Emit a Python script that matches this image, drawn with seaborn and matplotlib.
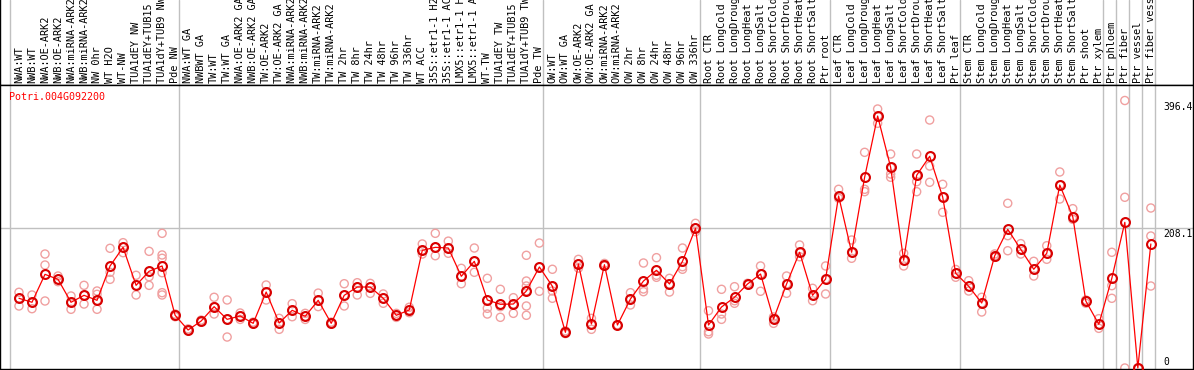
import numpy as np
import pandas as pd
import matplotlib
matplotlib.use("Agg")
import matplotlib.pyplot as plt
import seaborn as sns

# --------------------------------------------------
# data
# --------------------------------------------------
gene = "Potri.004G092200"

labels = [
    # NW
    "NWA:WT", "NWB:WT", "NWA:OE-ARK2", "NWB:OE-ARK2", "NWA:miRNA-ARK2", "NWB:miRNA-ARK2",
    "NW 0hr", "WT H2O", "WT-NW", "TUA1dEY NW", "TUA1dEY+TUB15 NW", "TUA1dY+TUB9 NW", "Pde NW",
    # TW
    "NWA:WT GA", "NWBWT GA", "TW:WT", "TW:WT GA", "NWA:OE-ARK2 GA", "NWB:OE-ARK2 GA",
    "TW:OE-ARK2", "TW:OE-ARK2 GA", "NWA:miRNA-ARK2 GA", "NWB:miRNA-ARK2 GA", "TW:miRNA-ARK2",
    "TW:miRNA-ARK2 GA", "TW 2hr", "TW 8hr", "TW 24hr", "TW 48hr", "TW 96hr", "TW 336hr", "WT ACC",
    "35S::etr1-1 H2O", "35S::etr1-1 ACC", "LMX5::etr1-1 H2O", "LMX5::etr1-1 ACC", "WT-TW",
    "TUA1dEY TW", "TUA1dEY+TUB15 TW", "TUA1dY+TUB9 TW", "Pde TW",
    # OW
    "OW:WT", "OW:WT GA", "OW:OE-ARK2", "OW:OE-ARK2 GA", "OW:miRNA-ARK2", "OW:miRNA-ARK2 GA",
    "OW 2hr", "OW 8hr", "OW 24hr", "OW 48hr", "OW 96hr", "OW 336hr",
    # root
    "Root CTR", "Root LongCold", "Root LongDrought", "Root LongHeat", "Root LongSalt",
    "Root ShortCold", "Root ShortDrought", "Root ShortHeat", "Root ShortSalt", "Ptr root",
    # leaf
    "Leaf CTR", "Leaf LongCold", "Leaf LongDrought", "Leaf LongHeat", "Leaf LongSalt",
    "Leaf ShortCold", "Leaf ShortDrought", "Leaf ShortHeat", "Leaf ShortSalt", "Ptr leaf",
    # stem
    "Stem CTR", "Stem LongCold", "Stem LongDrought", "Stem LongHeat", "Stem LongSalt",
    "Stem ShortCold", "Stem ShortDrought", "Stem ShortHeat", "Stem ShortSalt", "Ptr shoot", "Ptr xylem",
    # single-sample groups
    "Ptr phloem", "Ptr fiber", "Ptr vessel", "Ptr fiber vessel",
]
group_sizes = [13, 28, 12, 10, 10, 11, 1, 1, 1, 1]

means = [
    103.3, 97.4, 138.8, 131.4, 97.4, 107.7, 100.3, 151.2, 178.8, 122.5, 143.3, 151.2, 78.1,
    56.3, 69.6, 90.9, 72.1, 77.1, 66.2, 112.6, 66.7, 85.5, 76.6, 100.3, 66.2, 107.7, 120.0,
    120.0, 103.3, 78.1, 86.0, 174.4, 178.8, 177.8, 135.9, 158.1, 100.8, 94.4, 94.8, 114.1, 149.7,
    121.1, 52.9, 154.1, 65.2, 153.1, 63.7, 102.3, 128.9, 144.8, 124.5, 158.1, 207.0,
    63.7, 90.4, 104.8, 124.5, 139.3, 72.6, 124.5, 171.5, 107.7, 131.9,
    254.9, 171.5, 282.6, 373.4, 297.4, 159.6, 285.6, 313.7, 253.4, 140.3,
    121.1, 96.3, 166.4, 205.5, 175.9, 146.3, 170.0, 271.2, 224.2, 99.3, 64.8,
    132.9, 215.9, 0.0, 183.8,
]

replicates = [
    [112.2, 103.3, 91.9], [108.2, 97.4, 87.9], [168.9, 152.6, 99.3], [136.3, 131.4, 127.9],
    [106.7, 97.4, 87.0], [122.5, 107.7, 94.8], [114.1, 109.2, 100.3, 87.0], [177.4, 141.8, 131.4],
    [185.7, 178.8, 170.9], [137.4, 122.5, 108.2], [172.9, 135.3, 122.5],
    [199.6, 167.5, 162.6, 141.2, 111.6, 108.2], [80.0, 78.0, 76.0],
    [58.0, 55.0, 56.0], [71.0, 69.6, 68.0], [104.8, 90.9, 80.0], [100.8, 72.1, 45.9],
    [81.5, 77.0, 72.0], [68.0, 66.0, 65.0], [123.0, 112.6, 100.8], [73.6, 66.7, 57.3],
    [95.3, 85.5, 76.0], [81.0, 76.6, 72.0], [111.0, 100.3, 91.0], [68.0, 66.0, 65.0],
    [124.9, 107.7, 91.9], [126.4, 120.0, 108.2], [125.4, 120.0, 110.6], [109.7, 103.3, 95.9],
    [81.0, 78.0, 75.0], [90.0, 86.0, 82.0], [183.8, 174.4, 168.9], [199.6, 178.8, 166.4],
    [188.0, 177.8, 170.0], [147.7, 135.9, 124.9], [177.8, 158.1, 141.8],
    [132.9, 100.8, 88.5, 80.0], [116.6, 90.9, 75.1], [104.2, 94.8, 81.0],
    [167.0, 128.9, 121.5, 114.1, 91.9, 78.1], [185.2, 149.7, 113.7],
    [146.3, 121.1, 114.1, 103.3], [55.0, 53.0, 51.0], [161.0, 154.0, 148.0], [73.6, 65.2, 57.3],
    [155.0, 153.0, 151.0], [64.0, 63.7, 63.5], [111.6, 102.3, 93.4], [155.6, 117.1, 113.1],
    [163.5, 137.4, 134.4], [132.9, 124.5, 112.6], [177.8, 150.1, 146.3], [214.4, 207.0, 202.0],
    [84.9, 53.8, 50.4], [116.6, 80.0, 72.1], [120.5, 99.7, 95.9], [125.5, 124.5, 123.5],
    [151.2, 139.3, 113.7], [75.6, 72.6, 66.2], [136.3, 124.5, 110.7], [182.3, 171.5, 164.9],
    [118.1, 107.7, 99.7], [151.2, 131.9, 109.7],
    [264.8, 254.9, 251.5], [189.7, 171.5, 162.6], [319.6, 264.8, 261.3], [383.8, 373.4, 362.6],
    [317.1, 297.4, 287.5, 282.6], [170.0, 159.6, 151.2], [317.1, 285.6, 276.1, 261.3],
    [367.5, 299.3, 275.2], [272.2, 253.4, 230.7], [146.0, 140.3, 134.5],
    [129.4, 121.1, 114.1], [104.8, 96.3, 83.0], [169.0, 166.4, 164.0], [244.1, 196.1, 173.8],
    [184.3, 175.9, 168.9], [158.1, 146.3, 136.3], [181.2, 170.0, 161.1], [290.5, 271.2, 250.4],
    [236.1, 224.2, 220.4], [100.8, 99.3, 96.0], [73.1, 64.8, 58.8],
    [171.5, 122.0, 103.3], [396.4, 253.0, 0.0], [0.0, 0.0, 0.0], [237.1, 195.6, 121.5],
]

y_ticks = [0, 208.1, 396.4]

# --------------------------------------------------
# long table for seaborn
# --------------------------------------------------
xs = np.arange(len(labels)) + 0.69
mean_df = pd.DataFrame({"pos": xs, "value": means})
rep_df = pd.DataFrame(
    [(xs[i], v) for i, reps in enumerate(replicates) for v in reps],
    columns=["pos", "value"],
)
boundaries = np.concatenate([[0], np.cumsum(group_sizes)])

# --------------------------------------------------
# figure
# --------------------------------------------------
sns.set_style("white")
plt.rcParams["font.family"] = ["DejaVu Sans Mono"]
plt.rcParams["font.size"] = 7

W, H = 1194, 370
fig = plt.figure(figsize=(W / 100, H / 100), dpi=100)
head_ax = fig.add_axes([0, 285 / H, 1193 / W, 85 / H])
ax = fig.add_axes([0, 1 / H, 1193 / W, 284 / H])

px_per_cell = 13.01
xlim = (-10 / px_per_cell, (1193 - 10) / px_per_cell)
px_per_unit = 0.6748
ylim = (-1 / px_per_unit, 283 / px_per_unit)

grid_col = "#c0c0c0"
for a in (head_ax, ax):
    a.set_xlim(*xlim)
    for b in boundaries:
        a.axvline(b, color=grid_col, lw=1, zorder=0)
    a.set_xticks([])
    a.set_yticks([])
    for s in a.spines.values():
        s.set_color("black")
        s.set_linewidth(1)
head_ax.spines["top"].set_visible(False)
head_ax.set_ylim(0, 1)

# rotated sample names in the header (clipped at the top like the original)
for x, lab in zip(xs, labels):
    head_ax.text(x, 2 / 85, lab, rotation=90, ha="center", va="bottom",
                 fontsize=7.4, color="black", clip_on=True)

# plot area
ax.set_ylim(*ylim)
ax.axhline(y_ticks[1], color=grid_col, lw=1, zorder=0)

sns.scatterplot(data=rep_df, x="pos", y="value", ax=ax, marker="o", s=34,
                facecolor="none", edgecolor="#f0a0a0", linewidth=1.0, zorder=2)
sns.lineplot(data=mean_df, x="pos", y="value", ax=ax, color="#ff0000", lw=0.9,
             marker="o", markersize=6.4, markerfacecolor="none",
             markeredgecolor="#d80000", markeredgewidth=1.5, zorder=3)
ax.set_xlabel("")
ax.set_ylabel("")
ax.set_xlim(*xlim)
ax.set_ylim(*ylim)

ax.text(9 / 1193, 1 - 12 / 284, gene, transform=ax.transAxes, color="red",
        fontsize=7.2, ha="left", va="center")

label_x = (1163 - 10) / px_per_cell
for v in y_ticks:
    va = "bottom" if v == 0 else "top"
    off = 1 / px_per_unit if v == 0 else -1 / px_per_unit
    ax.text(label_x, v + off, f"{v:g}", ha="left", va=va, fontsize=7, color="black")

fig.savefig("out.png", dpi=100)
